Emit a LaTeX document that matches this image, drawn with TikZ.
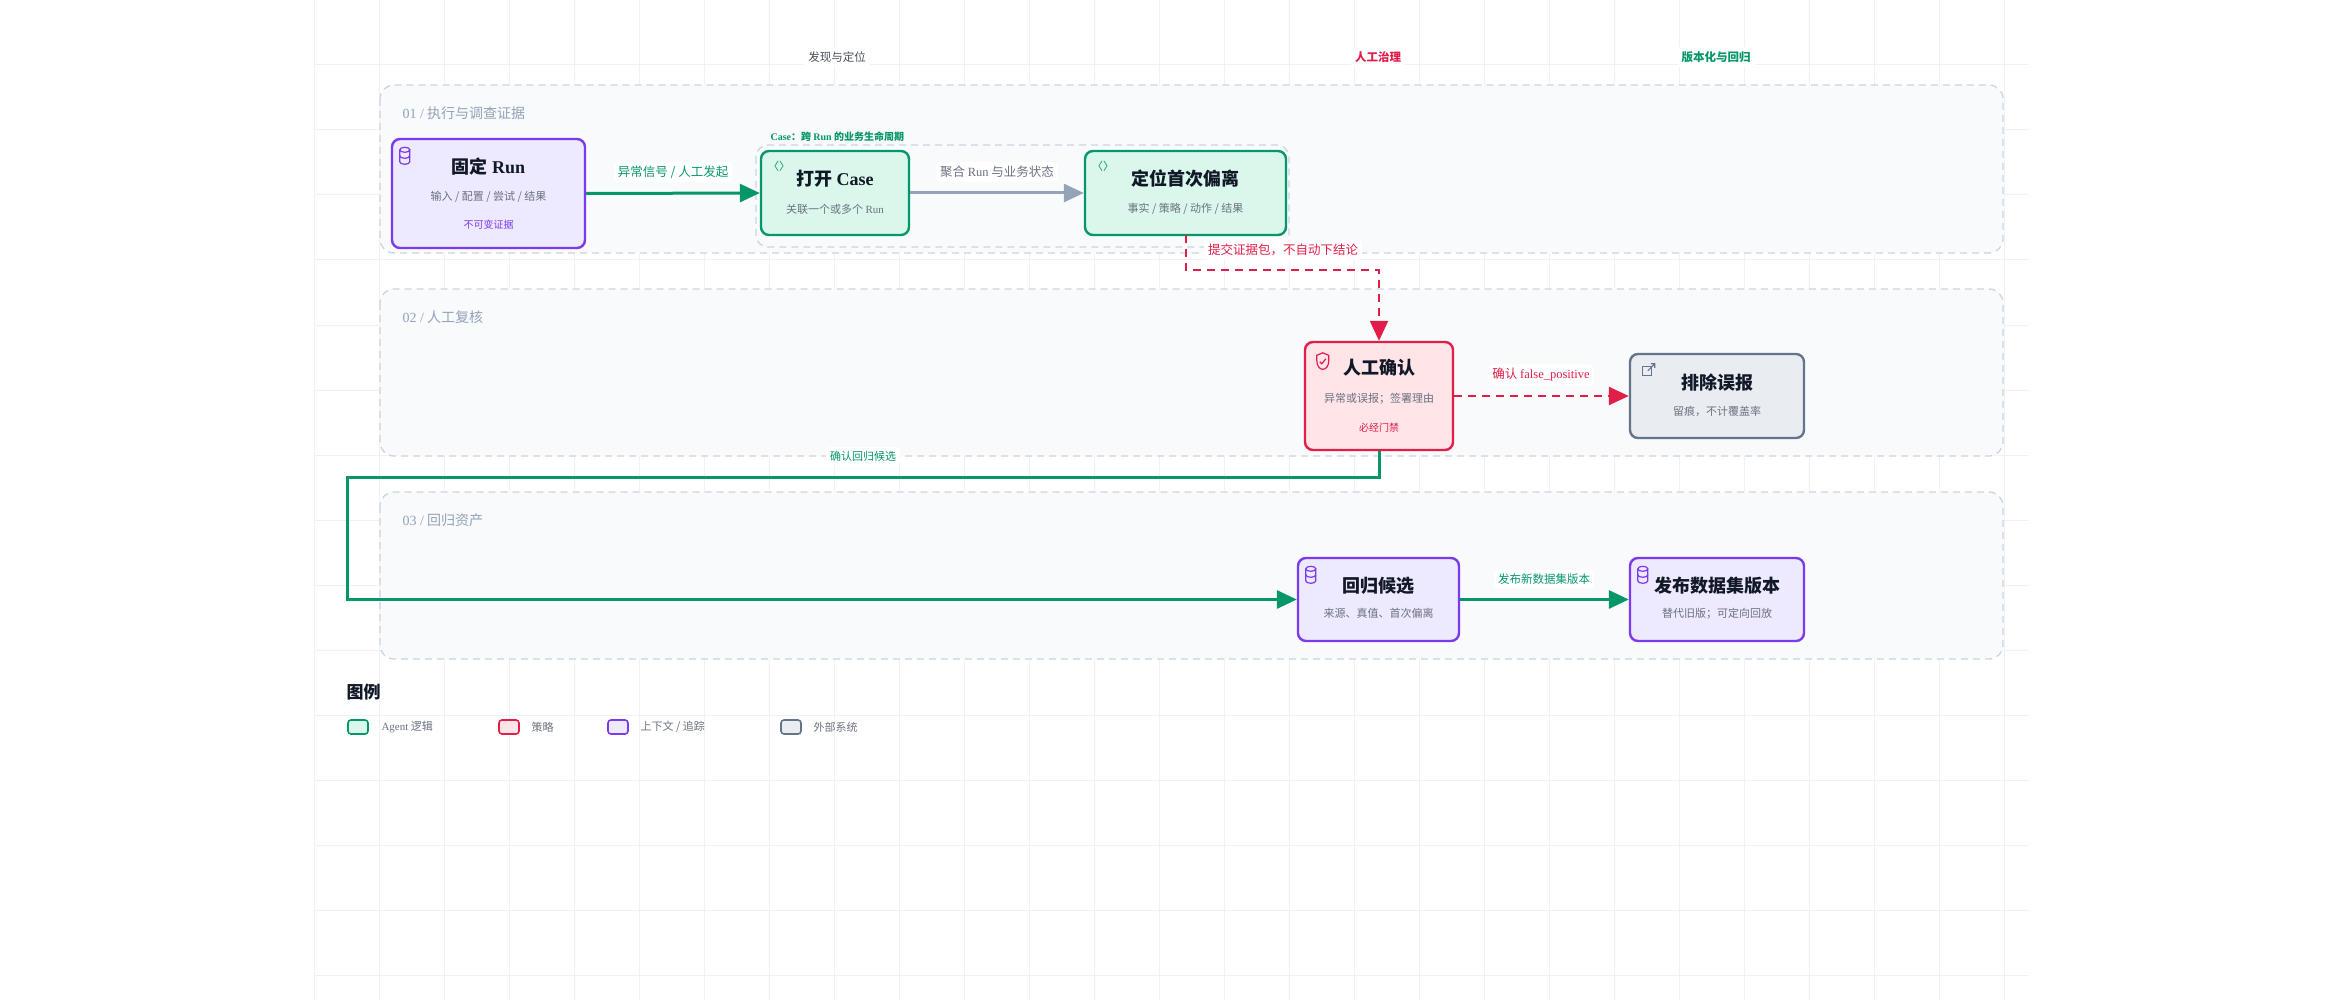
\documentclass[tikz,border=0pt]{standalone}
\usepackage{fontspec}
\setmainfont{Noto Sans CJK SC}
\newfontfamily\lat{Liberation Serif}
\usetikzlibrary{arrows.meta,calc}
\definecolor{gridc}{HTML}{EEF1F5}
\definecolor{lanef}{HTML}{F8FAFC}
\definecolor{laned}{HTML}{CBD5E1}
\definecolor{gC}{HTML}{059669}\definecolor{gF}{HTML}{D9F7EA}
\definecolor{pC}{HTML}{7C3AED}\definecolor{pF}{HTML}{EDE9FE}
\definecolor{rC}{HTML}{E11D48}\definecolor{rF}{HTML}{FFE4E8}
\definecolor{xC}{HTML}{64748B}\definecolor{xF}{HTML}{E9EDF2}
\definecolor{tD}{HTML}{111827}\definecolor{tS}{HTML}{6B7280}
\definecolor{laneT}{HTML}{94A3B8}\definecolor{arrG}{HTML}{94A3B8}
\tikzset{
 lane/.style={draw=laned,fill=lanef,dashed,dash pattern=on 7pt off 5pt,line width=1.3pt,rounded corners=14pt},
 box/.style 2 args={draw=#1,fill=#2,line width=2.4pt,rounded corners=8pt,inner sep=0pt},
 ttl/.style={font=\bfseries\fontsize{18}{20}\selectfont,text=tD},
 sub/.style={font=\fontsize{11}{13}\selectfont,text=tS},
 lanet/.style={font=\fontsize{14}{16}\selectfont,text=laneT,anchor=west},
 elab/.style={font=\fontsize{12.5}{14}\selectfont,fill=white,rounded corners=4pt,inner sep=4pt},
 hdr/.style={font=\bfseries\fontsize{11.5}{13}\selectfont,fill=white,inner sep=4pt},
 garr/.style={draw=gC,line width=3pt,-{Triangle[length=20pt,width=18pt]}},
 rarr/.style={draw=rC,line width=2.4pt,dash pattern=on 8pt off 6pt,-{Triangle[length=20pt,width=18pt]}},
 lg/.style={line width=1.6pt,rounded corners=3pt,minimum width=20pt,minimum height=14pt,inner sep=0pt},
 lgt/.style={font=\fontsize{11}{12}\selectfont,text=tS,anchor=west},
 ico/.style={line width=1.2pt},
}
\newcommand{\dbicon}[1]{\draw[ico,draw=pC] ($(#1.north west)+(14,12)$) ellipse (5pt and 2.5pt);
 \draw[ico,draw=pC] ($(#1.north west)+(9,12)$) -- ++(0,12) arc[start angle=180,end angle=360,x radius=5,y radius=-2.5] -- ++(0,-12);
 \draw[ico,draw=pC] ($(#1.north west)+(9,18)$) arc[start angle=180,end angle=360,x radius=5,y radius=-2.5];}
\newcommand{\codeicon}[1]{\node[text=gC,font=\fontsize{11}{12}\selectfont,anchor=west,inner sep=0pt] at ($(#1.north west)+(8,17)$) {〈〉};}
\begin{document}
\begin{tikzpicture}[x=1pt,y=-1pt]
\useasboundingbox (0,0) rectangle (2344,1000);
\fill[white] (0,0) rectangle (2344,1000);
\foreach \x in {314,379,...,2030} \draw[gridc,line width=1pt] (\x,0)--(\x,1000);
\foreach \y in {0,65,...,1000} \draw[gridc,line width=1pt] (314,\y)--(2029,\y);
% headers
\node[hdr,text=tS!70!black,font=\fontsize{11.5}{13}\selectfont] (h1) at (837,57) {发现与定位};
\node[hdr,text=rC] (h2) at (1378,57) {人工治理};
\node[hdr,text=gC] (h3) at (1716,57) {版本化与回归};
% lanes
\draw[lane] (380,85) rectangle (2003,253);
\draw[lane] (380,289) rectangle (2003,456);
\draw[lane] (380,492) rectangle (2003,659);
\node[lanet] (l1) at (399,113) {{\lat 01 /} 执行与调查证据};
\node[lanet] (l2) at (399,317) {{\lat 02 /} 人工复核};
\node[lanet] (l3) at (399,520) {{\lat 03 /} 回归资产};
% case container
\draw[draw=laned,dashed,dash pattern=on 7pt off 5pt,line width=1.3pt,rounded corners=12pt,fill=lanef] (756,145) rectangle (1289,247);
\node[font=\bfseries\fontsize{10}{11}\selectfont,text=gC,anchor=west] (caseL) at (767,137) {{\lat Case}：跨 {\lat Run} 的业务生命周期};
% nodes
\node[box={pC}{pF},minimum width=193pt,minimum height=109pt] (run) at (488.5,193.5) {};
\node[ttl] at ($(run)+(0,-27)$) {固定 {\lat Run}};
\node[sub] at ($(run)+(0,3)$) {输入 / 配置 / 尝试 / 结果};
\node[sub,text=pC,font=\fontsize{10}{12}\selectfont] at ($(run)+(0,31)$) {不可变证据};
\dbicon{run}
\node[box={gC}{gF},minimum width=148pt,minimum height=84pt] (case) at (835,193) {};
\node[ttl] at ($(case)+(0,-14)$) {打开 {\lat Case}};
\node[sub] at ($(case)+(0,16)$) {关联一个或多个 {\lat Run}};
\codeicon{case}
\node[box={gC}{gF},minimum width=201pt,minimum height=84pt] (loc) at (1185.5,193) {};
\node[ttl] at ($(loc)+(0,-14)$) {定位首次偏离};
\node[sub] at ($(loc)+(0,16)$) {事实 / 策略 / 动作 / 结果};
\codeicon{loc}
\node[box={rC}{rF},minimum width=148pt,minimum height=108pt] (conf) at (1379,396) {};
\node[ttl] at ($(conf)+(0,-28)$) {人工确认};
\node[sub] at ($(conf)+(0,3)$) {异常或误报；签署理由};
\node[sub,text=rC,font=\fontsize{10}{12}\selectfont] at ($(conf)+(0,32)$) {必经门禁};
\draw[ico,draw=rC] ($(conf.north west)+(19,12)$) -- ++(-6,2.5) -- ++(0,5) .. controls ++(0,6) and ++(-3,0) .. ++(6,9) .. controls ++(3,0) and ++(0,6) .. ++(6,-9) -- ++(0,-5) -- cycle;
\draw[ico,draw=rC] ($(conf.north west)+(16,21)$) -- ++(2,2) -- ++(4,-5);
\node[box={xC}{xF},minimum width=174pt,minimum height=84pt] (fp) at (1717,396) {};
\node[ttl] at ($(fp)+(0,-13)$) {排除误报};
\node[sub] at ($(fp)+(0,15)$) {留痕，不计覆盖率};
\draw[ico,draw=xC] ($(fp.north west)+(14,14)$) rectangle ++(9,9);
\draw[ico,draw=xC] ($(fp.north west)+(19,18)$) -- ++(7,-7) ++(-4,0) -- ++(4,0) -- ++(0,4);
\node[box={pC}{pF},minimum width=161pt,minimum height=83pt] (reg) at (1378.5,599.5) {};
\node[ttl] at ($(reg)+(0,-14)$) {回归候选};
\node[sub] at ($(reg)+(0,14)$) {来源、真值、首次偏离};
\dbicon{reg}
\node[box={pC}{pF},minimum width=174pt,minimum height=83pt] (pub) at (1717,599.5) {};
\node[ttl] at ($(pub)+(0,-14)$) {发布数据集版本};
\node[sub] at ($(pub)+(0,14)$) {替代旧版；可定向回放};
\dbicon{pub}
% edges
\draw[garr] (run.east) -- (case.west);
\node[elab,text=gC] (e1) at (673,172) {异常信号 / 人工发起};
\draw[draw=arrG,line width=3pt,-{Triangle[length=20pt,width=18pt]}] (case.east) -- (loc.west);
\node[elab,text=tS] (e2) at (997,172) {聚合 {\lat Run} 与业务状态};
\coordinate (r0) at (1186,235);
\coordinate (r1) at (1379,270);
\draw[rarr] (r0) |- (r1) -- (conf.north);
\node[elab,text=rC] (e3) at (1283,250) {提交证据包，不自动下结论};
\draw[rarr] (conf.east) -- (fp.west);
\node[elab,text=rC] (e4) at (1541,375) {确认 {\lat false\_positive}};
\coordinate (g1) at (347,477);
\draw[garr] (conf.south) |- (g1) |- (reg.west);
\node[elab,text=gC,font=\fontsize{11}{12}\selectfont] (e5) at (863,456) {确认回归候选};
\draw[garr] (reg.east) -- (pub.west);
\node[elab,text=gC,font=\fontsize{11.5}{13}\selectfont] (e6) at (1544,579) {发布新数据集版本};
% legend
\node[font=\bfseries\fontsize{17}{19}\selectfont,text=tD,anchor=west] (lgT) at (343,692) {图例};
\node[lg,draw=gC,fill=gF] (lg1) at (358,727) {};
\node[lgt] at (378,727) {{\lat Agent} 逻辑};
\node[lg,draw=rC,fill=rF] (lg2) at (509,727) {};
\node[lgt] at (528,727) {策略};
\node[lg,draw=pC,fill=pF] (lg3) at (618,727) {};
\node[lgt] at (637,727) {上下文 / 追踪};
\node[lg,draw=xC,fill=xF] (lg4) at (791,727) {};
\node[lgt] at (810,727) {外部系统};
\end{tikzpicture}
\end{document}
